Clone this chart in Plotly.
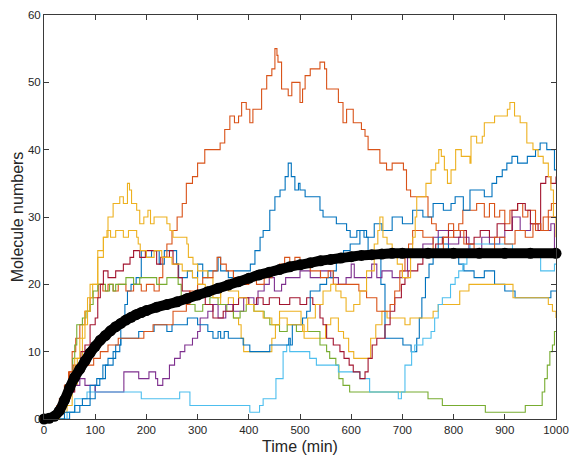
import plotly.graph_objects as go

# ---- data: stochastic trajectories as (time, molecule count) change points ----
blue_a = [(0,0),(50,1),(70,2),(90,3),(100,5),(109,6),(120,8),(135,10),(148,11),(150,14),(158,17),(163,19),(170,20),(180,21),(190,25),(200,24),(210,25),(225,23),(235,25),(250,25),(259,23),(263,21),(280,22),(290,21),(300,23),(310,21),(320,22),(340,24),(345,22),(360,21),(370,22),(389,22),(403,23),(412,25),(422,27),(428,28),(441,31),(451,33),(461,34),(471,36),(477,38),(483,36),(490,34),(497,35),(500,34),(510,33),(523,33),(539,31),(545,30),(571,29),(591,28),(598,27),(611,28),(625,27),(633,25),(650,24),(658,20),(666,12),(701,11),(717,10),(728,12),(733,15),(738,18),(745,21),(752,23),(760,25),(770,27),(780,26),(790,24),(800,25),(810,23),(820,22),(840,21),(860,22),(880,20),(900,19),(920,18),(990,19),(1000,19)]

orange_a = [(0,0),(25,1),(32,3),(40,5),(48,7),(55,10),(62,12),(70,14),(80,16),(90,18),(106,20),(115,19),(125,20),(135,19),(145,20),(160,19),(175,20),(190,19),(200,20),(215,19),(225,21),(232,24),(240,26),(250,28),(260,30),(270,32),(278,35),(290,36),(300,38),(314,40),(330,40),(344,41),(353,43),(363,45),(372,44),(380,45),(386,47),(395,46),(402,44),(408,46),(415,46),(425,49),(435,51),(445,52),(451,55),(455,54),(457,53),(464,49),(477,48),(484,50),(494,50),(500,47),(505,49),(510,51),(520,52),(539,53),(548,52),(552,49),(568,49),(575,47),(584,44),(591,46),(601,46),(604,44),(620,43),(627,42),(633,40),(653,40),(656,38),(669,37),(680,38),(695,38),(702,37),(708,34),(716,33),(746,33),(750,30),(757,29),(766,28),(780,28),(790,29),(800,28),(810,29),(818,31),(830,31),(845,32),(855,32),(860,30),(870,32),(880,30),(890,31),(900,29),(910,31),(925,32),(935,30),(945,31),(960,28),(975,30),(985,31),(991,32),(1000,32)]

yellow_a = [(0,0),(40,1),(45,2),(55,5),(65,9),(75,14),(85,18),(95,20),(105,24),(116,27),(125,30),(135,32),(148,33),(155,32),(163,35),(167,34),(171,32),(181,31),(187,29),(195,30),(203,31),(208,29),(215,30),(226,30),(240,29),(246,28),(252,27),(279,26),(282,24),(291,23),(300,22),(320,21),(330,19),(345,17),(360,18),(370,15),(380,14),(385,12),(390,10),(441,10),(445,12),(452,14),(460,16),(497,16),(502,14),(508,12),(540,12),(550,14),(560,15),(575,13),(585,12),(595,10),(605,9),(630,9),(638,12),(648,14),(660,16),(670,15),(700,15),(705,14),(715,15),(750,15),(760,16),(770,17),(800,17),(812,19),(830,20),(900,20),(916,18),(975,18),(985,17),(993,16),(1000,15)]

purple = [(0,0),(20,1),(30,2),(40,3),(50,4),(58,5),(70,6),(80,5),(100,4),(150,4),(156,7),(180,7),(185,6),(205,7),(218,6),(222,5),(232,6),(245,8),(255,9),(266,10),(275,11),(290,12),(300,13),(305,15),(320,16),(330,17),(340,15),(355,17),(370,16),(390,18),(410,17),(418,19),(430,20),(440,21),(450,19),(464,20),(472,21),(500,22),(520,21),(540,22),(560,21),(575,20),(590,21),(600,23),(606,21),(640,23),(650,21),(660,22),(680,21),(700,22),(710,24),(720,25),(740,26),(760,27),(770,28),(790,26),(810,27),(830,25),(855,27),(870,26),(890,27),(900,28),(915,30),(930,28),(950,29),(970,28),(990,29),(997,25),(1000,25)]

green = [(0,0),(30,1),(38,2),(45,4),(50,6),(56,9),(60,11),(64,14),(75,15),(82,16),(90,17),(96,19),(105,20),(120,19),(128,20),(135,19),(140,20),(160,21),(175,20),(187,21),(220,20),(240,21),(262,20),(268,18),(280,17),(295,16),(310,17),(324,18),(340,17),(357,16),(370,15),(383,16),(395,17),(410,16),(430,15),(441,14),(460,13),(475,14),(493,13),(539,11),(552,10),(558,9),(570,8),(576,6),(584,5),(597,4),(750,3),(778,2),(862,1),(940,2),(973,4),(978,6),(983,8),(988,10),(993,11),(997,13),(1000,13)]

light_blue = [(0,0),(45,1),(60,3),(84,4),(190,3),(265,4),(285,2),(402,1),(421,2),(428,3),(453,6),(467,10),(474,11),(480,10),(519,9),(532,8),(575,7),(617,6),(636,4),(692,3),(698,4),(705,8),(718,10),(724,11),(740,12),(756,13),(763,15),(770,17),(778,18),(794,20),(803,21),(810,22),(818,23),(826,24),(832,26),(897,26),(915,25),(930,24),(970,22),(997,23),(1000,23)]

dark_red = [(0,0),(25,1),(31,2),(40,3),(51,4),(60,7),(72,10),(80,11),(90,14),(100,15),(105,18),(110,20),(116,22),(125,21),(140,22),(155,23),(168,24),(175,25),(187,24),(198,25),(214,25),(220,23),(228,24),(245,25),(252,23),(262,21),(270,19),(285,18),(300,19),(315,17),(330,15),(350,16),(369,17),(380,18),(400,17),(415,18),(428,17),(440,18),(460,17),(480,18),(500,17),(513,18),(525,17),(539,15),(545,14),(552,12),(565,11),(578,10),(586,9),(596,8),(604,7),(617,6),(627,7),(633,9),(641,11),(650,12),(666,14),(676,16),(685,18),(698,20),(705,21),(711,22),(730,23),(740,24),(750,25),(765,26),(778,27),(790,28),(800,27),(813,28),(825,26),(840,27),(852,28),(870,27),(885,29),(900,28),(914,31),(925,32),(940,31),(950,29),(965,28),(970,35),(980,36),(990,35),(1000,36)]

blue_b = [(0,0),(40,1),(60,2),(75,3),(90,5),(103,6),(115,8),(125,9),(140,11),(150,12),(185,13),(215,14),(240,13),(250,14),(280,15),(300,14),(320,13),(330,12),(340,13),(345,12),(352,13),(360,12),(389,11),(402,10),(441,11),(478,12),(481,11),(485,14),(496,14),(505,15),(513,16),(520,19),(539,20),(552,21),(565,22),(571,24),(585,25),(598,26),(617,28),(630,27),(645,29),(660,28),(680,30),(700,29),(720,31),(740,30),(760,32),(780,31),(795,32),(803,33),(819,31),(832,34),(860,33),(875,35),(884,36),(895,37),(904,38),(914,39),(925,38),(944,39),(960,40),(969,41),(982,40),(997,37),(1000,37)]

orange_b = [(0,0),(18,1),(25,2),(30,3),(40,5),(50,7),(57,8),(97,9),(110,10),(125,11),(145,12),(195,13),(213,14),(252,16),(278,17),(285,19),(300,20),(310,21),(330,22),(338,24),(345,23),(356,22),(370,21),(385,20),(400,21),(415,20),(430,21),(445,22),(460,23),(470,24),(480,23),(490,24),(500,23),(520,22),(540,21),(555,22),(565,20),(615,19),(630,18),(650,16),(676,17),(685,19),(695,22),(705,24),(712,26),(720,28),(740,27),(760,25),(780,27),(800,28),(820,26),(840,24),(860,25),(880,27),(900,26),(920,28),(940,27),(955,29),(970,28),(985,30),(1000,30)]

yellow_b = [(0,0),(30,1),(40,3),(50,6),(60,9),(70,12),(80,16),(90,20),(105,25),(116,27),(123,28),(130,27),(140,28),(155,27),(165,28),(181,27),(184,26),(188,25),(200,24),(215,25),(230,24),(250,23),(270,22),(290,21),(300,20),(315,19),(330,18),(345,20),(360,19),(380,18),(396,17),(410,16),(428,15),(445,14),(460,15),(475,14),(505,13),(515,15),(530,17),(545,19),(560,20),(570,19),(580,18),(590,16),(605,17),(617,19),(630,22),(645,26),(652,28),(656,30),(662,27),(670,26),(680,24),(690,23),(700,21),(716,24),(720,27),(725,30),(728,33),(746,35),(756,37),(765,38),(771,40),(776,39),(782,37),(788,35),(795,37),(804,40),(815,39),(832,38),(834,42),(845,41),(856,42),(860,44),(880,45),(905,46),(910,47),(919,45),(930,44),(943,41),(955,40),(965,39),(975,38),(985,36),(990,34),(995,30),(1000,27)]

# mean trajectory (thick black curve)
mean_t = [0, 10, 20, 30, 40, 50, 60, 70, 80, 90, 100, 110, 120, 130, 140, 150, 160, 170, 180, 190,
          200, 220, 240, 260, 280, 300, 320, 340, 360, 380, 400, 420, 440, 460, 480, 500, 520, 540,
          560, 580, 600, 620, 640, 660, 680, 700, 750, 800, 850, 900, 950, 1000]
mean_v = [0, 0.1, 0.4, 1.2, 2.8, 4.6, 6.2, 7.4, 8.6, 9.8, 10.8, 11.7, 12.4, 13.1, 13.7, 14.2, 14.7, 15.1, 15.5, 15.8,
          16.1, 16.6, 17.0, 17.4, 17.9, 18.4, 18.9, 19.4, 19.9, 20.4, 20.9, 21.4, 21.8, 22.2, 22.6, 22.9, 23.2, 23.5,
          23.7, 23.9, 24.1, 24.3, 24.4, 24.5, 24.6, 24.6, 24.6, 24.6, 24.6, 24.6, 24.6, 24.6]

x_ticks = [0, 100, 200, 300, 400, 500, 600, 700, 800, 900, 1000]
y_ticks = [0, 10, 20, 30, 40, 50, 60]

series = [blue_a, orange_a, yellow_a, purple, green, light_blue, dark_red, blue_b, orange_b, yellow_b]
colors = ["#0072BD", "#D95319", "#EDB120", "#7E2F8E", "#77AC30", "#4DBEEE", "#A2142F",
          "#0072BD", "#D95319", "#EDB120"]

fig = go.Figure()
for s, c in zip(series, colors):
    fig.add_trace(go.Scatter(x=[p[0] for p in s], y=[p[1] for p in s], mode="lines",
                             line=dict(color=c, width=1.1, shape="hv"), hoverinfo="skip"))

fig.add_trace(go.Scatter(x=mean_t, y=mean_v, mode="lines+markers", cliponaxis=False,
                         line=dict(color="black", width=10, shape="spline"),
                         marker=dict(size=11, color="black"), hoverinfo="skip"))

axis_common = dict(showline=True, linecolor="#3a3a3a", linewidth=1, mirror="allticks",
                   ticks="inside", ticklen=5, tickcolor="#3a3a3a", showgrid=False, zeroline=False,
                   automargin=False,
                   tickfont=dict(family="Liberation Sans, Arial, sans-serif", size=11.5, color="#262626"))

fig.update_layout(
    width=571, height=456,
    margin=dict(l=44, r=15, t=15, b=37, autoexpand=False),
    paper_bgcolor="white", plot_bgcolor="white",
    showlegend=False,
    font=dict(family="Liberation Sans, Arial, sans-serif", color="#262626"),
    xaxis=dict(range=[0, 1000], tickvals=x_ticks, ticktext=[str(v) for v in x_ticks],
               title=dict(text="Time (min)", font=dict(size=16), standoff=6), **axis_common),
    yaxis=dict(range=[0, 60], tickvals=y_ticks, ticktext=[str(v) for v in y_ticks],
               title=dict(text="Molecule numbers", font=dict(size=16), standoff=0), **axis_common),
)

fig.write_html("out.html")
